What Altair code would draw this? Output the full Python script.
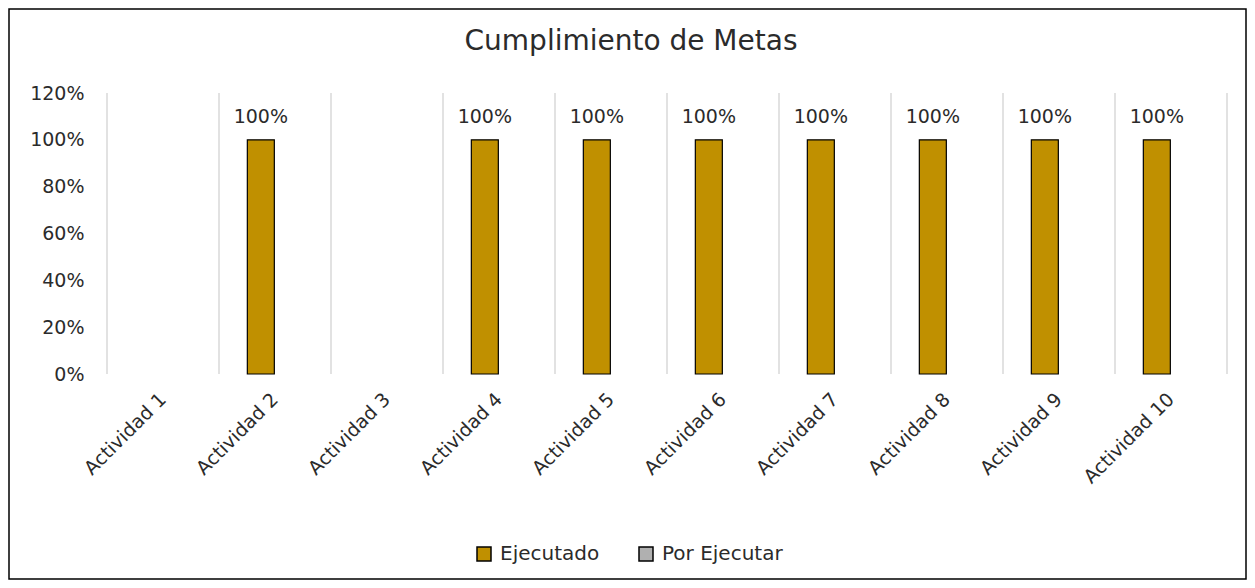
import altair as alt
import pandas as pd

categorias = [f"Actividad {i}" for i in range(1, 11)]
ejecutado = [None, 1.0, None, 1.0, 1.0, 1.0, 1.0, 1.0, 1.0, 1.0]
series = ["Ejecutado", "Por Ejecutar"]
colores = ["#C09000", "#B0B0B0"]
y_ticks = [0, 0.2, 0.4, 0.6, 0.8, 1.0, 1.2]
titulo = "Cumplimiento de Metas"

df = pd.DataFrame({"cat": categorias, "valor": ejecutado, "serie": "Ejecutado"})
df_bars = df.dropna()

FONT = "DejaVu Sans"
TXT = "#2b2b2b"
W, H = 1120, 281
PL, PT = 99, 85
TOTW, TOTH = 1239, 572

xscale = alt.Scale(domain=categorias, paddingInner=0, paddingOuter=0)
xoff = alt.XOffset("serie:N", scale=alt.Scale(domain=series, paddingOuter=1, paddingInner=0.047))
yscale = alt.Scale(domain=[0, 1.2], nice=False)

grid = alt.Chart(pd.DataFrame({"cat": categorias})).mark_rule(color="#D9D9D9", strokeWidth=1.5).encode(
    x=alt.X("cat:N", scale=xscale, bandPosition=0,
            axis=alt.Axis(title=None, labelAngle=-45, labelAlign="right", labelBaseline="middle",
                          labelFont=FONT, labelFontSize=19, labelColor=TXT, ticks=False,
                          domain=False, labelPadding=22, grid=False)),
    y=alt.value(0), y2=alt.value(H),
)
grid_end = alt.Chart(pd.DataFrame({"cat": [categorias[-1]]})).mark_rule(color="#D9D9D9", strokeWidth=1.5).encode(
    x=alt.value(W), y=alt.value(0), y2=alt.value(H),
)

bars = alt.Chart(df_bars).mark_bar(stroke="black", strokeWidth=1.2).encode(
    x=alt.X("cat:N", scale=xscale),
    xOffset=xoff,
    y=alt.Y("valor:Q", scale=yscale,
            axis=alt.Axis(title=None, format=".0%", values=y_ticks, grid=False, domain=False,
                          ticks=False, labelFont=FONT, labelFontSize=19, labelColor=TXT,
                          labelPadding=23)),
    color=alt.Color("serie:N", scale=alt.Scale(domain=series, range=colores),
                    legend=alt.Legend(title=None, orient="none", direction="horizontal",
                                      legendX=367, legendY=451, symbolType="square",
                                      symbolSize=196, symbolStrokeColor="black",
                                      symbolStrokeWidth=1.5, labelFont=FONT, labelFontSize=20,
                                      labelColor=TXT, columnPadding=36, labelOffset=6)),
)

labels = alt.Chart(df_bars).mark_text(font=FONT, fontSize=19, color=TXT, baseline="alphabetic", dy=-17).encode(
    x=alt.X("cat:N", scale=xscale),
    xOffset=xoff,
    y=alt.Y("valor:Q", scale=yscale),
    text=alt.Text("valor:Q", format=".0%"),
)

title = alt.Chart(pd.DataFrame({"t": [titulo]})).mark_text(
    font=FONT, fontSize=28, color=TXT, baseline="alphabetic", align="center"
).encode(x=alt.value(524), y=alt.value(-43), text="t:N")

border = alt.Chart(pd.DataFrame({"a": [0]})).mark_rect(fill=None, stroke="black", strokeWidth=1.5).encode(
    x=alt.value(-PL + 1), x2=alt.value(TOTW - PL - 1),
    y=alt.value(-PT + 1), y2=alt.value(TOTH - PT - 1),
)

chart = alt.layer(grid, grid_end, bars, labels, title, border).properties(
    width=W, height=H,
    autosize=alt.AutoSizeParams(type="none"),
    padding={"left": PL, "top": PT, "right": TOTW - PL - W, "bottom": TOTH - PT - H},
).configure(background="white").configure_view(stroke=None)

chart.save("out.html", embed_options={"renderer": "svg", "actions": False})
